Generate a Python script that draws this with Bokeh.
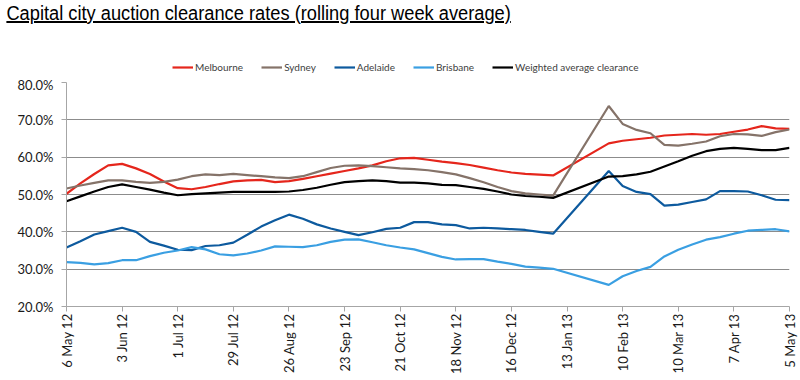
import math
import pandas as pd
from bokeh.plotting import figure
from bokeh.models import (Range1d, FixedTicker, PrintfTickFormatter, Legend,
                          LegendItem, Div)
from bokeh.layouts import column
from bokeh.embed import file_html
from bokeh.resources import INLINE

title_text = "Capital city auction clearance rates (rolling four week average)"

# weekly observations, no auctions reported over the holiday break
all_weeks = pd.date_range("2012-05-06", "2013-05-05", freq="7D")
holiday_gap = pd.to_datetime(["2013-01-13", "2013-01-20", "2013-01-27"])
weeks = all_weeks.drop(holiday_gap)

melbourne = [50.2, 53.0, 55.5, 57.8, 58.2, 57.0, 55.5, 53.5, 51.7, 51.4, 52.0, 52.8,
             53.5, 53.8, 53.9, 53.3, 53.6, 54.2, 54.9, 55.6, 56.3, 57.0, 57.8, 58.9,
             59.7, 59.8, 59.3, 58.8, 58.4, 57.9, 57.2, 56.5, 55.9, 55.5, 55.3, 55.1,
             63.7, 64.4, 64.8, 65.2, 65.8, 66.0, 66.2, 66.0, 66.2, 66.8, 67.4, 68.3,
             67.7, 67.6]
sydney = [51.6, 52.4, 53.1, 53.8, 53.8, 53.4, 53.1, 53.4, 54.0, 54.9, 55.4, 55.2,
          55.5, 55.2, 54.9, 54.6, 54.4, 54.9, 56.0, 57.1, 57.7, 57.8, 57.6, 57.3,
          57.0, 56.8, 56.5, 56.0, 55.4, 54.4, 53.3, 52.0, 50.9, 50.3, 50.0, 49.7,
          73.7, 68.9, 67.3, 66.4, 63.3, 63.1, 63.6, 64.2, 65.6, 66.2, 66.1, 65.7,
          66.7, 67.4]
adelaide = [35.8, 37.5, 39.3, 40.2, 41.1, 40.0, 37.3, 36.3, 35.2, 35.1, 36.2, 36.4,
            37.1, 39.2, 41.4, 43.1, 44.6, 43.5, 42.0, 40.9, 40.0, 39.1, 39.9, 40.8,
            41.1, 42.6, 42.6, 42.0, 41.8, 40.9, 41.1, 40.9, 40.7, 40.5, 40.0, 39.5,
            56.3, 52.3, 50.7, 50.1, 47.0, 47.3, 48.0, 48.7, 50.9, 50.9, 50.8, 49.8,
            48.6, 48.5]
brisbane = [31.9, 31.7, 31.3, 31.6, 32.4, 32.4, 33.5, 34.4, 35.0, 35.9, 35.3, 34.0,
            33.7, 34.2, 35.0, 36.1, 36.0, 35.9, 36.4, 37.3, 37.9, 38.0, 37.2, 36.4,
            35.8, 35.3, 34.3, 33.3, 32.6, 32.7, 32.7, 32.0, 31.4, 30.7, 30.4, 30.1,
            25.8, 28.1, 29.5, 30.6, 33.4, 35.2, 36.6, 37.9, 38.6, 39.5, 40.3, 40.5,
            40.7, 40.1]
weighted = [48.2, 49.5, 50.8, 52.0, 52.7, 52.0, 51.3, 50.5, 49.8, 50.1, 50.3, 50.5,
            50.7, 50.7, 50.7, 50.7, 50.8, 51.2, 51.8, 52.6, 53.3, 53.6, 53.8, 53.6,
            53.2, 53.2, 53.0, 52.6, 52.5, 52.0, 51.5, 50.8, 50.0, 49.6, 49.4, 49.1,
            54.8, 54.9, 55.4, 56.1, 57.5, 58.9, 60.4, 61.6, 62.2, 62.5, 62.2, 61.9,
            61.9, 62.5]

series_names = ["Melbourne", "Sydney", "Adelaide", "Brisbane", "Weighted average clearance"]
series_values = [melbourne, sydney, adelaide, brisbane, weighted]
series_colors = ["#E5261C", "#857369", "#0D5A9E", "#3A9FE2", "#000000"]

tick_dates = pd.date_range("2012-05-06", "2013-05-05", freq="28D")
tick_labels = ["6 May 12", "3 Jun 12", "1 Jul 12", "29 Jul 12", "26 Aug 12",
               "23 Sep 12", "21 Oct 12", "18 Nov 12", "16 Dec 12", "13 Jan 13",
               "10 Feb 13", "10 Mar 13", "7 Apr 13", "5 May 13"]
y_ticks = [20, 30, 40, 50, 60, 70, 80]

tick_ms = [int(t.value // 10**6) for t in tick_dates]
x_start = int(weeks[0].value // 10**6)
x_end = int(weeks[-1].value // 10**6)

# ---------------- main chart ----------------
p = figure(width=800, height=304, x_axis_type="datetime",
           output_backend="svg", toolbar_location=None,
           x_range=Range1d(x_start, x_end), y_range=Range1d(20, 80),
           min_border_left=66, min_border_right=11,
           min_border_top=6, min_border_bottom=74)
p.outline_line_color = None
p.background_fill_color = "white"
p.border_fill_color = "white"

p.xgrid.grid_line_color = None
p.ygrid.ticker = FixedTicker(ticks=y_ticks)
p.ygrid.grid_line_color = "#8c8c8c"
p.ygrid.grid_line_width = 1

for name, vals, col in zip(series_names, series_values, series_colors):
    p.line(weeks, vals, line_color=col, line_width=2.2)

yax = p.yaxis[0]
yax.ticker = FixedTicker(ticks=y_ticks)
yax.formatter = PrintfTickFormatter(format="%.1f%%")
yax.major_label_text_font = "Lato"
yax.major_label_text_font_size = "13px"
yax.major_label_text_color = "#1a1a1a"
yax.axis_line_color = "#a6a6a6"
yax.major_tick_line_color = "#a6a6a6"
yax.major_tick_out = 5
yax.major_tick_in = 0
yax.minor_tick_line_color = None
yax.major_label_standoff = 8

xax = p.xaxis[0]
xax.ticker = FixedTicker(ticks=tick_ms)
xax.major_label_overrides = dict(zip(tick_ms, tick_labels))
xax.major_label_orientation = math.pi / 2
xax.major_label_text_font = "Lato"
xax.major_label_text_font_size = "13px"
xax.major_label_text_color = "#1a1a1a"
xax.axis_line_color = "#a6a6a6"
xax.major_tick_line_color = "#a6a6a6"
xax.major_tick_out = 5
xax.major_tick_in = 0
xax.minor_tick_line_color = None
xax.major_label_standoff = 2

# ---------------- legend strip ----------------
lg = figure(width=800, height=18, output_backend="svg", toolbar_location=None,
            x_axis_location=None, y_axis_location=None,
            x_range=Range1d(0, 1), y_range=Range1d(0, 1),
            min_border_left=0, min_border_right=0,
            min_border_top=0, min_border_bottom=0)
lg.outline_line_color = None
lg.xgrid.grid_line_color = None
lg.ygrid.grid_line_color = None
lg.background_fill_color = "white"
lg.border_fill_color = "white"

items = []
for name, vals, col in zip(series_names, series_values, series_colors):
    r = lg.line(weeks, vals, line_color=col, line_width=2.2)
    items.append(LegendItem(label=name, renderers=[r]))

legend = Legend(items=items, orientation="horizontal", location=(106, 3),
                border_line_color=None, background_fill_alpha=0,
                label_text_font="Lato", label_text_font_size="10px",
                label_text_color="#404040", glyph_width=21, glyph_height=12,
                label_height=12, label_standoff=2, spacing=18, padding=0,
                margin=0)
lg.add_layout(legend)

# ---------------- title ----------------
title = Div(text='<div style="font-family:\'Liberation Sans\',Arial,sans-serif;'
                 'font-size:20px;line-height:22px;text-decoration:underline;color:#000;'
                 'white-space:nowrap;transform:scaleX(0.913);transform-origin:0 0;'
                 'padding-left:7px;padding-top:2px;">' + title_text + '</div>',
            width=800, height=58, margin=(0, 0, 0, 0))

layout = column(title, lg, p, spacing=0)
open("out.html", "w").write(file_html(layout, INLINE))
